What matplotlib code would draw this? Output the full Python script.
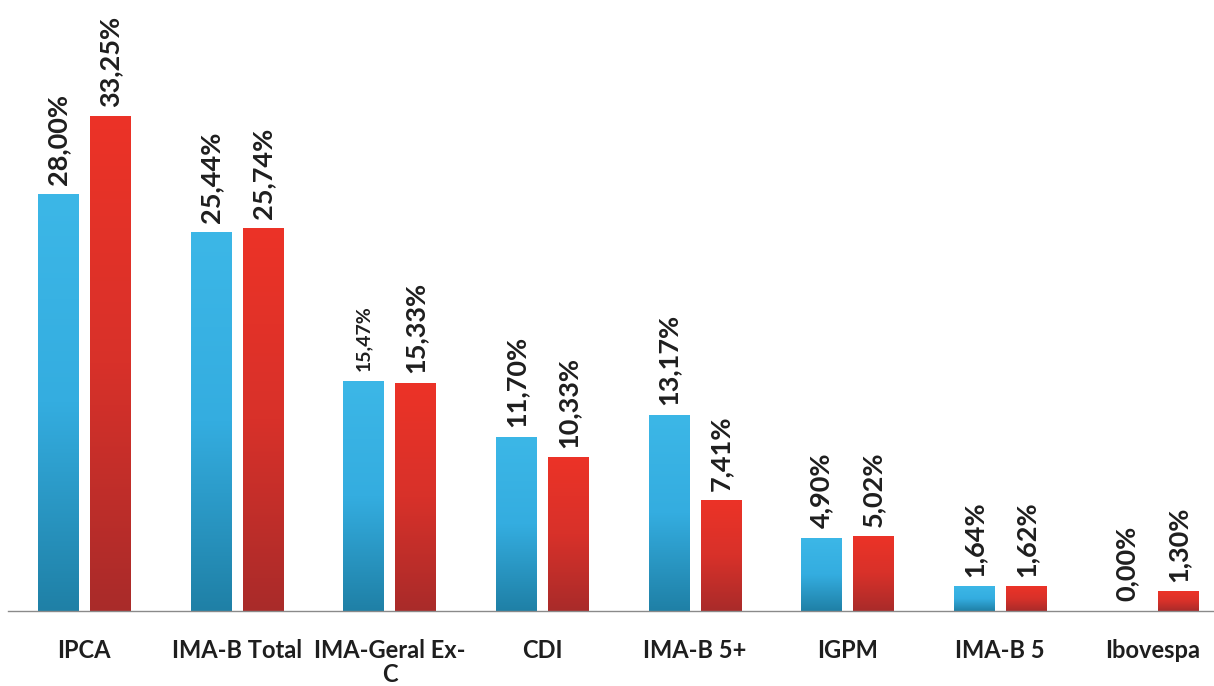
import numpy as np
import matplotlib
matplotlib.use("Agg")
import matplotlib.pyplot as plt
from matplotlib.colors import LinearSegmentedColormap

categories = ["IPCA", "IMA-B Total", "IMA-Geral Ex-\nC", "CDI", "IMA-B 5+", "IGPM", "IMA-B 5", "Ibovespa"]
series_blue = [28.00, 25.44, 15.47, 11.70, 13.17, 4.90, 1.64, 0.00]
series_red = [33.25, 25.74, 15.33, 10.33, 7.41, 5.02, 1.62, 1.30]
labels_blue = ["28,00%", "25,44%", "15,47%", "11,70%", "13,17%", "4,90%", "1,64%", "0,00%"]
labels_red = ["33,25%", "25,74%", "15,33%", "10,33%", "7,41%", "5,02%", "1,62%", "1,30%"]

W, H = 1214, 686
fig = plt.figure(figsize=(W / 100, H / 100), dpi=100)
fig.patch.set_facecolor("white")
ax = fig.add_axes([8 / W, 75 / H, (W - 8) / W, 611 / H])
ax.set_facecolor("white")

FONT = ["Lato", "DejaVu Sans"]
x = np.arange(len(categories))
bw = 0.265
off = 0.17

blue_cmap = LinearSegmentedColormap.from_list("b", ["#1f80a6", "#34ade0", "#3cb7e7"])
red_cmap = LinearSegmentedColormap.from_list("r", ["#a92b29", "#d8312a", "#ec3327"])

bars_b = ax.bar(x - off, series_blue, bw, color="none", edgecolor="none")
bars_r = ax.bar(x + off, series_red, bw, color="none", edgecolor="none")

grad = np.linspace(0, 1, 256).reshape(-1, 1)
for bars, cmap in ((bars_b, blue_cmap), (bars_r, red_cmap)):
    for b in bars:
        h = b.get_height()
        if h <= 0:
            continue
        x0 = b.get_x()
        ax.imshow(grad, cmap=cmap, aspect="auto", origin="lower",
                  extent=(x0, x0 + b.get_width(), 0, h), zorder=2, interpolation="bilinear")

for bars, labs in ((bars_b, labels_blue), (bars_r, labels_red)):
    for b, lab in zip(bars, labs):
        size = 14 if lab == "15,47%" else 19.5
        ax.annotate(lab, (b.get_x() + b.get_width() / 2, b.get_height()),
                    xytext=(0, 7), textcoords="offset points", rotation=90,
                    ha="center", va="bottom", fontsize=size, fontweight="bold",
                    family=FONT, color="#1e1e1e")

ax.set_xlim(-0.5, 7.5 - 15 / 153)
ax.set_ylim(0, 41.1)
ax.set_xticks(x)
ax.set_xticklabels(categories, fontsize=17, fontweight="bold", family=FONT, color="#1e1e1e",
                   linespacing=1.05)
ax.tick_params(axis="x", length=0, pad=20)
ax.set_yticks([])
for s in ("top", "right", "left"):
    ax.spines[s].set_visible(False)
ax.spines["bottom"].set_color("#8a8a8a")
ax.spines["bottom"].set_linewidth(1.0)

fig.savefig("out.png", dpi=100, facecolor="white")
